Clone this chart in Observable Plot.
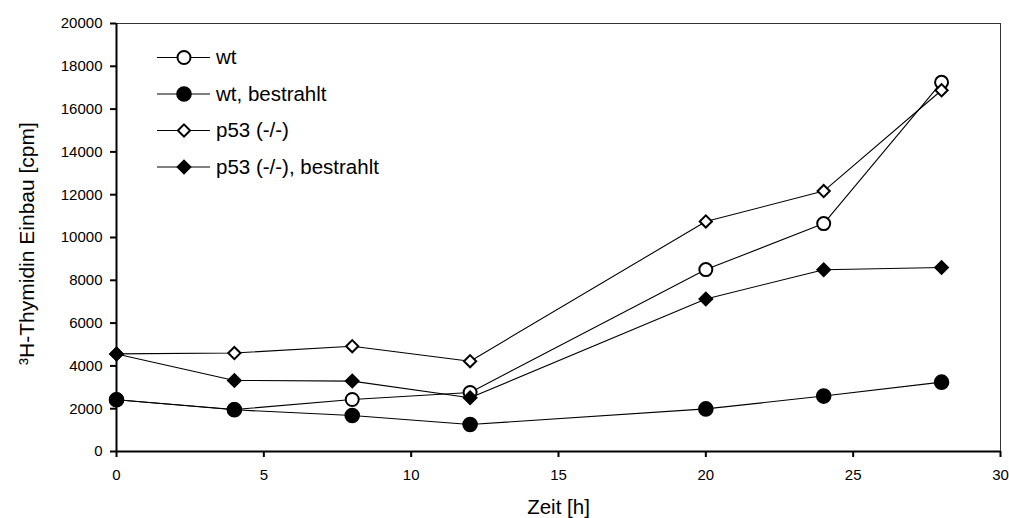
<!DOCTYPE html>
<html><head><meta charset="utf-8">
<script src="https://cdn.jsdelivr.net/npm/d3@7"></script>
<script src="https://cdn.jsdelivr.net/npm/@observablehq/plot@0.6"></script>
<style>
html,body{margin:0;padding:0;background:#fff;}
#chart{position:relative;width:1009px;height:518px;font-family:Arial,"Liberation Sans",sans-serif;}
#chart svg.legend{position:absolute;left:0;top:0;pointer-events:none;}
</style></head><body><div id="chart"></div>
<script>
// ---- data ----
const time = [0, 4, 8, 12, 20, 24, 28];
const wt = [2420, 1960, 2430, 2760, 8500, 10650, 17250];
const wtBestrahlt = [2420, 1950, 1680, 1260, 1990, 2590, 3240];
const p53 = [4560, 4600, 4920, 4220, 10750, 12170, 16880];
const p53Bestrahlt = [4560, 3320, 3290, 2510, 7130, 8490, 8600];
const seriesNames = ["wt", "wt, bestrahlt", "p53 (-/-)", "p53 (-/-), bestrahlt"];
const seriesValues = [wt, wtBestrahlt, p53, p53Bestrahlt];
const xTicks = [0, 5, 10, 15, 20, 25, 30];
const yTicks = [0, 2000, 4000, 6000, 8000, 10000, 12000, 14000, 16000, 18000, 20000];
const xLabel = "Zeit [h]";
const yLabel = "³H-Thymidin Einbau [cpm]";

// ---- styles ----
const styles = [
  {symbol: "circle", fill: "white", r: 6.5, strokeWidth: 2},
  {symbol: "circle", fill: "black", r: 7.8, strokeWidth: 0},
  {symbol: "diamond2", fill: "white", r: 5.5, strokeWidth: 2},
  {symbol: "diamond2", fill: "black", r: 7, strokeWidth: 0}
];
const FONT = 'Arial, "Liberation Sans", sans-serif';

const W = 1009, H = 518;
const seriesData = seriesValues.map((vals, s) =>
  time.map((t, i) => ({time: t, value: vals[i], series: seriesNames[s]})));

const seriesMarks = [];
seriesData.forEach((d, s) => {
  const st = styles[s];
  seriesMarks.push(Plot.line(d, {x: "time", y: "value", stroke: "black", strokeWidth: 1.1}));
  seriesMarks.push(Plot.dot(d, {x: "time", y: "value", symbol: () => st.symbol, r: st.r,
    fill: st.fill, stroke: "black", strokeWidth: st.strokeWidth}));
});

const chart = Plot.plot({
  width: W, height: H,
  marginLeft: 116, marginRight: 9, marginTop: 23, marginBottom: 67,
  style: {fontFamily: FONT, fontSize: "15px", background: "white", color: "black"},
  x: {domain: [0, 30], ticks: xTicks},
  y: {domain: [0, 20000], ticks: yTicks},
  marks: [
    Plot.frame({stroke: "#333", strokeWidth: 1}),
    Plot.axisX({ticks: xTicks, tickSize: 6, tickPadding: 12, strokeWidth: 2, label: null, tickFormat: d => String(d)}),
    Plot.axisY({ticks: yTicks, tickSize: 6, tickPadding: 8, strokeWidth: 2, label: null, tickFormat: d => String(d)}),
    Plot.ruleX([0], {strokeWidth: 2}),
    Plot.ruleY([0], {strokeWidth: 2}),
    Plot.text([xLabel], {frameAnchor: "bottom", dy: 62, lineAnchor: "bottom", textAnchor: "middle", fontSize: 20.5, fill: "black"}),
    Plot.text([yLabel], {frameAnchor: "left", dx: -97, dy: 6, rotate: -90, lineAnchor: "top", textAnchor: "middle", fontSize: 21, fill: "black"}),
    ...seriesMarks
  ]
});

const container = document.getElementById("chart");
container.appendChild(chart);

// ---- legend overlay (inside plot area, upper left) ----
const leg = d3.select(container).append("svg").attr("class", "legend")
  .attr("width", W).attr("height", H);
const rowY0 = 57.5, rowStep = 36.5, lineX1 = 157, lineX2 = 210, markX = 184, textX = 216;
seriesNames.forEach((name, i) => {
  const st = styles[i];
  const y = rowY0 + i * rowStep;
  leg.append("line").attr("x1", lineX1).attr("x2", lineX2).attr("y1", y).attr("y2", y)
    .attr("stroke", "black").attr("stroke-width", 1.1);
  const sym = st.symbol === "circle" ? d3.symbolCircle : d3.symbolDiamond2;
  leg.append("path").attr("d", d3.symbol(sym, st.r * st.r * Math.PI)())
    .attr("transform", `translate(${markX},${y})`)
    .attr("fill", st.fill).attr("stroke", "black").attr("stroke-width", st.strokeWidth);
  leg.append("text").attr("x", textX).attr("y", y + 6.5)
    .attr("font-family", FONT).attr("font-size", 20.5).attr("fill", "black").text(name);
});
</script></body></html>
